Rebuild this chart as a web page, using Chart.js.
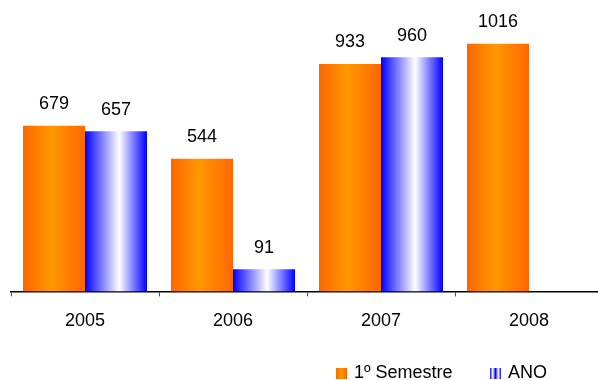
<!DOCTYPE html>
<html><head><meta charset="utf-8">
<script src="https://cdn.jsdelivr.net/npm/chart.js@4/dist/chart.umd.min.js"></script>
<style>
html,body{margin:0;padding:0;overflow:hidden;background:#fff;width:598px;height:380px}
#wrap{width:605px;height:380px;position:relative}
</style></head><body>
<div id="wrap"><canvas id="c"></canvas></div>
<script>
const categories = ['2005', '2006', '2007', '2008'];
const semestre = [679, 544, 933, 1016];
const ano = [657, 91, 960, null];
const seriesNames = ['1º Semestre', 'ANO'];

const CAT_PCT = 0.838;
const FONT = "'Liberation Sans', Arial, sans-serif";

function fillGradient(g, dsIndex) {
  if (dsIndex === 0) {
    g.addColorStop(0, '#FF6600');
    g.addColorStop(0.45, '#FF9900');
    g.addColorStop(1, '#FF6600');
  } else {
    g.addColorStop(0, '#0000FF');
    g.addColorStop(0.55, '#FFFFFF');
    g.addColorStop(1, '#0000FF');
  }
  return g;
}

function barGradient(ctx, dsIndex) {
  const chart = ctx.chart;
  const xs = chart.scales && chart.scales.x;
  const fallback = dsIndex === 0 ? '#FF8800' : '#6666FF';
  if (ctx.type !== 'data' || !xs || !xs.width) return fallback;
  const catW = xs.width / categories.length;
  const barW = catW * CAT_PCT / 2;
  const c = xs.getPixelForValue(ctx.dataIndex);
  const left = c - barW + dsIndex * barW;
  return fillGradient(chart.ctx.createLinearGradient(left, 0, left + barW, 0), dsIndex);
}

const valueLabels = {
  id: 'valueLabels',
  afterDatasetsDraw(chart) {
    const ctx = chart.ctx;
    ctx.save();
    ctx.font = '18px ' + FONT;
    ctx.fillStyle = '#000';
    ctx.textAlign = 'center';
    ctx.textBaseline = 'middle';
    chart.data.datasets.forEach((ds, di) => {
      chart.getDatasetMeta(di).data.forEach((el, i) => {
        const v = ds.data[i];
        if (v === null || v === undefined) return;
        ctx.fillText(String(v), el.x, el.y - 21.5);
      });
    });
    ctx.restore();
  }
};

const customLegend = {
  id: 'customLegend',
  afterDraw(chart) {
    const ctx = chart.ctx;
    const items = [
      { x: 336, text: seriesNames[0], ds: 0 },
      { x: 490, text: seriesNames[1], ds: 1 }
    ];
    const cy = 373;
    ctx.save();
    ctx.font = '18px ' + FONT;
    ctx.textBaseline = 'middle';
    ctx.textAlign = 'left';
    items.forEach(it => {
      const w = 11, h = 11, top = cy - 5;
      let g = ctx.createLinearGradient(it.x, 0, it.x + w, 0);
      if (it.ds === 0) {
        g.addColorStop(0, '#FF6600'); g.addColorStop(0.45, '#FF9900'); g.addColorStop(1, '#FF6600');
      } else {
        g.addColorStop(0, '#0000FF'); g.addColorStop(0.25, '#FFFFFF'); g.addColorStop(0.5, '#0000FF');
        g.addColorStop(0.75, '#FFFFFF'); g.addColorStop(1, '#0000FF');
      }
      ctx.fillStyle = g;
      ctx.fillRect(it.x, top, w, h);
      ctx.fillStyle = '#000';
      ctx.fillText(it.text, it.x + w + 7, cy);
    });
    ctx.restore();
  }
};

new Chart(document.getElementById('c'), {
  type: 'bar',
  data: {
    labels: categories,
    datasets: [
      { label: seriesNames[0], data: semestre, backgroundColor: (c) => barGradient(c, 0) },
      { label: seriesNames[1], data: ano, backgroundColor: (c) => barGradient(c, 1) }
    ]
  },
  options: {
    responsive: true,
    maintainAspectRatio: false,
    animation: false,
    devicePixelRatio: 1,
    layout: { padding: { left: 11, right: 2, top: 0, bottom: 34 } },
    datasets: { bar: { categoryPercentage: CAT_PCT, barPercentage: 1, borderWidth: 0 } },
    scales: {
      x: {
        grid: { offset: true, drawOnChartArea: false, drawTicks: true, tickLength: 5, color: '#555', lineWidth: 1 },
        border: { display: true, color: '#000', width: 1.5 },
        ticks: { color: '#000', font: { family: FONT, size: 18 }, padding: 14 }
      },
      y: {
        display: false, min: 0, max: 1195
      }
    },
    plugins: {
      tooltip: { enabled: false },
      legend: { display: false }
    }
  },
  plugins: [valueLabels, customLegend]
});
</script>
</body></html>
